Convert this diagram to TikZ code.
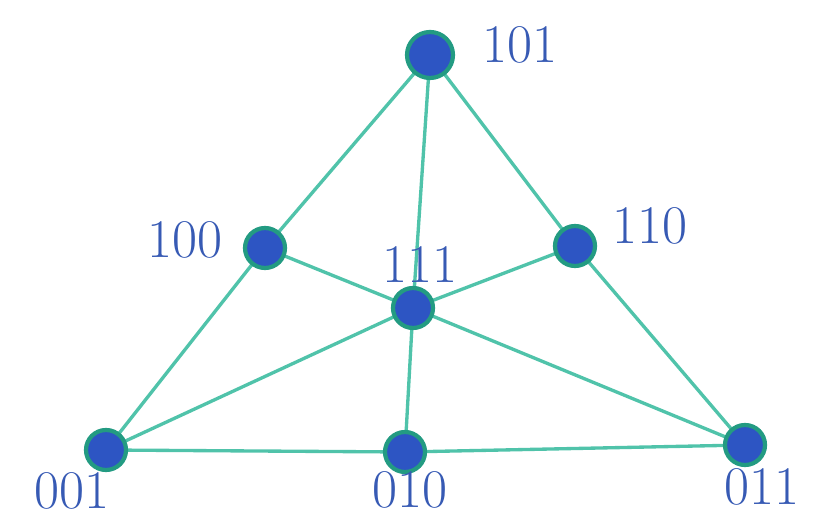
\documentclass[tikz,border=0pt]{standalone}
\usepackage{tikz}

\definecolor{lineteal}{RGB}{80,195,170}
\definecolor{ringteal}{RGB}{35,155,130}
\definecolor{dotblue}{RGB}{45,85,195}
\definecolor{labelblue}{RGB}{55,90,180}

\setlength{\unitlength}{0.02cm}
\tikzset{
  point/.style={circle, fill=dotblue, draw=ringteal, line width=2.4pt, minimum size=40\unitlength, inner sep=0pt},
  bigpoint/.style={point, minimum size=46\unitlength},
  edge/.style={draw=lineteal, line width=1.9pt},
  lbl/.style={text=labelblue, font=\fontsize{31}{31}\selectfont, inner sep=0pt}
}

\begin{document}
\begin{tikzpicture}[x=0.02cm, y=-0.02cm] % pixel grid of the sketch

        \useasboundingbox (0,0) rectangle (818,519);

        % Points of the plane
        \coordinate (c101) at (430,55);
        \coordinate (c100) at (265,248);
        \coordinate (c110) at (575,246);
        \coordinate (c111) at (413,308);
        \coordinate (c001) at (106,450);
        \coordinate (c010) at (405,452);
        \coordinate (c011) at (745,445);

        % Lines
        \draw[edge] (c001) -- (c100) -- (c101);
        \draw[edge] (c101) -- (c110) -- (c011);
        \draw[edge] (c001) -- (c010) -- (c011);
        \foreach \a/\b in {101/010, 100/011, 110/001}
          \draw[edge] (c\a) -- (c111) -- (c\b);

        % Dots
        \node[bigpoint] (n101) at (c101) {};
        \foreach \p in {100,110,111,001,010,011}
          \node[point] (n\p) at (c\p) {};

        % Labels
        \node[lbl] (l101) at (520,45) {101};
        \node[lbl] (l100) at (185,240) {100};
        \node[lbl] (l110) at (650,226) {110};
        \node[lbl] (l111) at (420,265) {111};
        \node[lbl] (l001) at (72,491) {001};
        \node[lbl] (l010) at (410,490) {010};
        \node[lbl] (l011) at (762,487) {011};

\end{tikzpicture}
\end{document}
